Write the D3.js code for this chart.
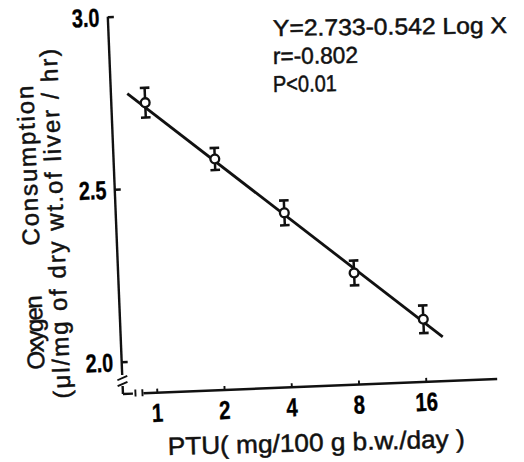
<!DOCTYPE html>
<html>
<head>
<meta charset="utf-8">
<script src="https://cdn.jsdelivr.net/npm/d3@7"></script>
<style>
  html, body { margin: 0; padding: 0; background: #fff; }
  svg { display: block; }
  text { font-family: "Liberation Sans", Arial, sans-serif; fill: #111; stroke: #111; stroke-width: 0.5px; }
  text.tl { fill: #000; stroke: #000; stroke-width: 0.4px; font-weight: bold; }
</style>
</head>
<body>
<svg id="chart" width="524" height="462"></svg>
<script>
// ---- data ----
const doses = [1, 2, 4, 8, 16];                      // PTU mg/100 g b.w./day
const oxygen = [2.747, 2.576, 2.412, 2.230, 2.088];  // mean O2 consumption
const errors = [0.043, 0.032, 0.036, 0.036, 0.040];  // error bar half-lengths
const yTicks = [2.0, 2.5, 3.0];
const yTickLabels = ["2.0", "2.5", "3.0"];
const xTicks = [1, 2, 4, 8, 16];
const xTickLabels = ["1", "2", "4", "8", "16"];
const fitX = [0.835, 19.4];                           // regression line ends
const fitY = [2.775, 2.035];
const statLines = ["Y=2.733-0.542 Log X", "r=-0.802", "P<0.01"];

const svg = d3.select("#chart");
svg.append("rect").attr("width", 524).attr("height", 462).attr("fill", "#fff");

// scanned figure is tilted slightly
const g = svg.append("g").attr("transform", "rotate(-2.3,270,230)");

const axisX = 116.5, axisY = 388;
const y = d3.scaleLinear().domain([2, 3]).range([355.7, 10.4]);
const x = d3.scaleLog().base(2).domain([1, 16]).range([150.4, 419.6]);

const ink = "#111";
const sw = 2.4;

// ---- Y axis ----
g.append("line").attr("x1", axisX).attr("x2", axisX)
  .attr("y1", y(3)).attr("y2", 369).attr("stroke", ink).attr("stroke-width", sw);
[372, 378].forEach(v => {
  g.append("line").attr("x1", axisX - 5).attr("x2", axisX + 5)
    .attr("y1", v + 2).attr("y2", v - 2).attr("stroke", ink).attr("stroke-width", 1.9);
});
g.append("line").attr("x1", axisX).attr("x2", axisX)
  .attr("y1", 380).attr("y2", axisY).attr("stroke", ink).attr("stroke-width", sw);

const yAxis = d3.axisRight(y).tickValues(yTicks).tickSize(6).tickFormat("");
const ya = g.append("g").attr("transform", `translate(${axisX},0)`).call(yAxis);
ya.select(".domain").remove();
ya.selectAll(".tick line").attr("stroke", ink).attr("stroke-width", sw);

g.selectAll(".ylab").data(yTicks).enter().append("text")
  .attr("class", "ylab tl")
  .attr("transform", d => `translate(108,${y(d)}) scale(0.76,1)`)
  .attr("dy", "0.36em")
  .attr("text-anchor", "end")
  .attr("font-size", 26)
  .text((d, i) => yTickLabels[i]);

// ---- X axis ----
g.append("line").attr("x1", axisX).attr("x2", axisX + 10)
  .attr("y1", axisY).attr("y2", axisY).attr("stroke", ink).attr("stroke-width", sw);
[129, 136].forEach(v => {
  g.append("line").attr("x1", v).attr("x2", v)
    .attr("y1", axisY - 4).attr("y2", axisY + 3).attr("stroke", ink).attr("stroke-width", 1.9);
});
g.append("line").attr("x1", 137).attr("x2", 491)
  .attr("y1", axisY).attr("y2", axisY).attr("stroke", ink).attr("stroke-width", sw);

const xAxis = d3.axisTop(x).tickValues(xTicks).tickSize(4).tickFormat("");
const xa = g.append("g").attr("transform", `translate(0,${axisY})`).call(xAxis);
xa.select(".domain").remove();
xa.selectAll(".tick line").attr("stroke", ink).attr("stroke-width", 1.9);

g.selectAll(".xlab").data(xTicks).enter().append("text")
  .attr("class", "xlab tl")
  .attr("transform", d => `translate(${x(d)},417) scale(0.78,1)`)
  .attr("text-anchor", "middle")
  .attr("font-size", 26)
  .text((d, i) => xTickLabels[i]);

// ---- regression line ----
g.append("line")
  .attr("x1", x(fitX[0])).attr("y1", y(fitY[0]))
  .attr("x2", x(fitX[1])).attr("y2", y(fitY[1]))
  .attr("stroke", ink).attr("stroke-width", 2.8);

// ---- error bars and points ----
const pts = doses.map((d, i) => ({ d, m: oxygen[i], e: errors[i] }));
const eb = g.selectAll(".eb").data(pts).enter().append("g").attr("class", "eb");
eb.append("line").attr("x1", p => x(p.d)).attr("x2", p => x(p.d))
  .attr("y1", p => y(p.m + p.e)).attr("y2", p => y(p.m - p.e))
  .attr("stroke", ink).attr("stroke-width", 2.5);
eb.append("line").attr("x1", p => x(p.d) - 4.8).attr("x2", p => x(p.d) + 4.8)
  .attr("y1", p => y(p.m + p.e)).attr("y2", p => y(p.m + p.e))
  .attr("stroke", ink).attr("stroke-width", 2.6);
eb.append("line").attr("x1", p => x(p.d) - 4.8).attr("x2", p => x(p.d) + 4.8)
  .attr("y1", p => y(p.m - p.e)).attr("y2", p => y(p.m - p.e))
  .attr("stroke", ink).attr("stroke-width", 2.6);
eb.append("circle").attr("cx", p => x(p.d)).attr("cy", p => y(p.m))
  .attr("r", 4.4).attr("fill", "#fff").attr("stroke", ink).attr("stroke-width", 2.3);

// ---- Y axis title (two lines) ----
function vtext(px, py, str, len, size) {
  g.append("text")
    .attr("transform", `translate(${px},${py}) rotate(-90)`)
    .attr("font-size", size)
    .attr("textLength", len).attr("lengthAdjust", "spacing")
    .text(str);
}
vtext(39, 360, "Oxygen", 74, 24);
vtext(39, 236, "Consumption", 160, 24);
vtext(64, 390, "(\u03bcl/mg of dry wt.of liver / hr)", 350, 24);

// ---- X axis title ----
svg.append("text")
  .attr("transform", "translate(168,455) rotate(-1.5)")
  .attr("font-size", 25)
  .attr("textLength", 297).attr("lengthAdjust", "spacingAndGlyphs")
  .text("PTU( mg/100 g b.w./day )");

// ---- statistics ----
const statY = [36, 64, 92];
const statLen = [234, 85, 64];
statLines.forEach((s, i) => {
  svg.append("text")
    .attr("transform", `translate(273,${statY[i]}) rotate(-0.7)`)
    .attr("font-size", 23)
    .attr("textLength", statLen[i]).attr("lengthAdjust", "spacingAndGlyphs")
    .text(s);
});
</script>
</body>
</html>
